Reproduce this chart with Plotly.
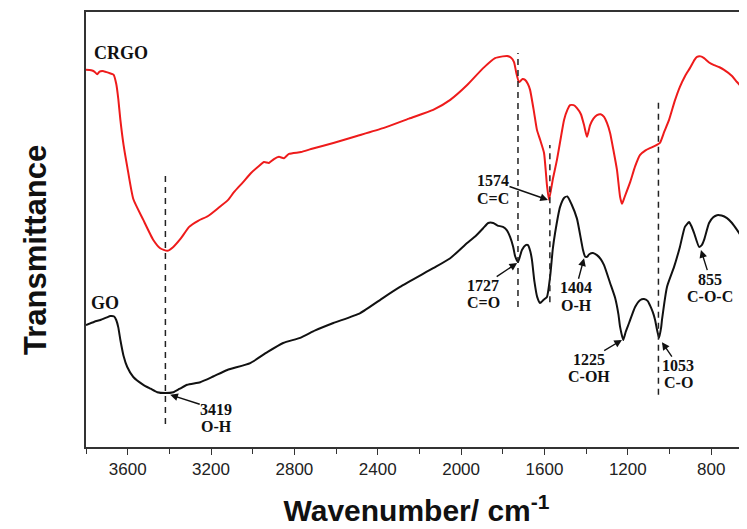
import plotly.graph_objects as go

# ---------------- data (wavenumber in cm^-1, transmittance in a.u.) ----------------
CRGO_WN = [3800, 3775, 3760, 3746, 3735, 3715, 3690, 3668, 3655, 3645, 3635, 3620, 3602, 3573,
           3525, 3477, 3444, 3410, 3381, 3344, 3305, 3262, 3214, 3166, 3118, 3090, 3046, 3008,
           2970, 2946, 2922, 2898, 2874, 2850, 2826, 2768, 2720, 2613, 2500, 2374, 2250, 2134,
           2052, 1971, 1894, 1837, 1800, 1779, 1760, 1746, 1735, 1722, 1705, 1693, 1680, 1669,
           1650, 1636, 1620, 1602, 1588, 1578, 1560, 1540, 1520, 1506, 1490, 1477, 1460, 1444,
           1425, 1410, 1396, 1381, 1365, 1348, 1330, 1314, 1300, 1285, 1270, 1252, 1237, 1228,
           1215, 1190, 1165, 1142, 1115, 1094, 1070, 1046, 1025, 1002, 975, 950, 925, 902, 880,
           868, 850, 834, 810, 786, 760, 738, 700, 676, 628]
CRGO_T = [86.7, 86.6, 86.3, 85.7, 86.3, 86.4, 86.0, 85.6, 83.5, 80.0, 75.2, 69.5, 64.4, 57.0,
          52.2, 47.6, 45.7, 45.1, 46.0, 48.0, 50.6, 52.0, 53.1, 54.9, 56.8, 58.6, 60.9, 63.0,
          64.6, 65.5, 65.3, 66.2, 66.7, 66.4, 67.4, 67.8, 68.5, 69.9, 71.5, 73.3, 75.5, 77.5,
          79.8, 83.2, 87.1, 89.4, 89.8, 89.9, 89.5, 88.5, 86.0, 83.9, 84.6, 84.4, 83.5, 82.1,
          77.0, 72.9, 70.5, 67.6, 60.2, 56.8, 61.5, 66.0, 71.5, 75.2, 77.5, 78.6, 78.6, 77.9,
          76.5, 74.0, 71.3, 74.0, 75.5, 76.3, 76.5, 75.9, 74.5, 72.2, 68.5, 63.7, 57.5, 55.9,
          57.5, 60.7, 64.5, 67.1, 68.2, 68.7, 69.2, 69.9, 72.5, 75.2, 79.5, 82.8, 85.3, 87.1, 89.0,
          89.7, 89.8, 89.4, 88.4, 87.8, 87.3, 86.7, 85.3, 83.9, 81.4]

GO_WN = [3800, 3760, 3731, 3700, 3683, 3665, 3655, 3645, 3635, 3620, 3602, 3573, 3525, 3490,
         3458, 3420, 3381, 3350, 3314, 3252, 3190, 3122, 3012, 2930, 2854, 2772, 2700, 2613,
         2484, 2374, 2293, 2134, 2052, 1971, 1930, 1894, 1870, 1846, 1825, 1799, 1780, 1765,
         1750, 1741, 1727, 1708, 1690, 1679, 1668, 1660, 1648, 1635, 1621, 1605, 1588, 1573,
         1560, 1549, 1525, 1505, 1490, 1470, 1444, 1415, 1405, 1396, 1385, 1367, 1348, 1330,
         1314, 1285, 1261, 1245, 1237, 1222, 1210, 1194, 1165, 1140, 1122, 1105, 1094, 1080,
         1069, 1060, 1050, 1040, 1036, 1012, 978, 950, 926, 906, 895, 882, 858, 845, 834, 810,
         790, 772, 750, 724, 700, 676, 628]
GO_T = [28.0, 28.8, 29.2, 29.8, 30.1, 30.0, 29.2, 27.5, 24.6, 21.0, 18.4, 16.1, 14.3, 13.4,
        12.6, 12.4, 12.6, 13.4, 14.3, 14.9, 16.2, 17.7, 19.3, 21.8, 23.9, 25.1, 26.8, 28.5,
        30.8, 34.3, 36.8, 41.1, 43.4, 46.9, 48.5, 50.3, 51.5, 51.5, 50.9, 50.6, 49.8, 48.3,
        46.0, 43.9, 42.5, 45.3, 46.4, 46.4, 45.0, 43.0, 38.0, 34.5, 33.1, 33.8, 34.5, 39.1,
        45.5, 49.2, 55.2, 57.3, 57.6, 55.8, 52.5, 45.3, 43.8, 43.7, 44.3, 44.6, 44.1, 43.2,
        41.8, 37.7, 34.3, 30.5, 27.6, 24.6, 26.5, 28.5, 32.2, 33.8, 34.0, 33.6, 32.6, 31.0,
        29.2, 27.0, 25.1, 27.5, 29.2, 36.8, 41.4, 46.0, 50.6, 51.7, 50.8, 49.2, 46.0, 46.4,
        47.6, 51.5, 52.8, 53.3, 53.2, 52.6, 51.5, 49.9, 46.4]

# dashed reference lines: wavenumber, lower and upper transmittance
REF_WN = [3419, 1727, 1574, 1053]
REF_LO = [5.3, 32.2, 33.3, 12.0]
REF_HI = [63.2, 90.6, 69.4, 79.3]

# band labels: peak wavenumber, assignment
PEAK_WN = [3419, 1574, 1727, 1404, 1225, 1053, 855]
PEAK_NAME = ["O-H", "C=C", "C=O", "O-H", "C-OH", "C-O", "C-O-C"]
# arrow head (wn, T) and label-block centre (wn, T)
HEAD = [(3396, 12.0), (1583, 56.8), (1731, 42.3), (1410, 43.4), (1228, 24.6), (1036, 24.1), (849, 45.3)]
LABEL = [(3175, 6.7), (1847, 59.3), (1894, 35.2), (1448, 34.7), (1386, 18.2), (959, 16.8), (805, 36.7)]

TICK_VALS = [3600, 3200, 2800, 2400, 2000, 1600, 1200, 800]
MINOR_VALS = [3800, 3400, 3000, 2600, 2200, 1800, 1400, 1000]

SERIF = "Liberation Serif, Times New Roman, serif"
SANS = "Liberation Sans, Arial, sans-serif"

fig = go.Figure()
fig.add_trace(go.Scatter(x=CRGO_WN, y=CRGO_T, mode="lines", name="CRGO",
                         line=dict(color="#ee1b1b", width=2, shape="spline", smoothing=0.5)))
fig.add_trace(go.Scatter(x=GO_WN, y=GO_T, mode="lines", name="GO",
                         line=dict(color="#111111", width=2, shape="spline", smoothing=0.5)))

for wn, lo, hi in zip(REF_WN, REF_LO, REF_HI):
    fig.add_shape(type="line", xref="x", yref="y", x0=wn, x1=wn, y0=lo, y1=hi,
                  line=dict(color="#222222", width=1.5, dash="6px,5px"))

lab_font = dict(family=SERIF, size=16, color="#111111", weight="bold")
for wn, name, h, l in zip(PEAK_WN, PEAK_NAME, HEAD, LABEL):
    # number line carries the arrow
    fig.add_annotation(x=h[0], y=h[1], ax=l[0], ay=l[1] + 1.9, xref="x", yref="y",
                       axref="x", ayref="y", text=str(wn), showarrow=True, font=lab_font,
                       arrowhead=2, arrowsize=1.1, arrowwidth=1.4, arrowcolor="#111111",
                       borderpad=0)
    fig.add_annotation(x=l[0], y=l[1], xref="x", yref="y", text=name, showarrow=False,
                       font=lab_font, yshift=-9)

fig.add_annotation(x=3770, y=90.6, xref="x", yref="y", text="CRGO", showarrow=False,
                   xanchor="left", font=dict(family=SERIF, size=18, color="#111111", weight="bold"))
fig.add_annotation(x=3710, y=33.1, xref="x", yref="y", text="GO", showarrow=False,
                   font=dict(family=SERIF, size=18, color="#111111", weight="bold"))

# y-axis title, placed slightly below the axis centre as in the original
fig.add_annotation(x=0, y=0.453, xref="paper", yref="paper", xshift=-50, text="Transmittance",
                   textangle=-90, showarrow=False, xanchor="center", yanchor="middle",
                   font=dict(family=SANS, size=31, color="#111111", weight="bold"))

# the page body has an 8px default margin, so the figure is sized to fit the window
fig.update_layout(
    width=739, height=521,
    margin=dict(l=78, r=0, t=4, b=82),
    paper_bgcolor="white", plot_bgcolor="white",
    showlegend=False,
    xaxis=dict(range=[3800, 628], tickvals=TICK_VALS, ticks="outside", ticklen=6,
               tickwidth=1.3, tickcolor="#333333",
               minor=dict(tickvals=MINOR_VALS, ticks="outside", ticklen=5, tickwidth=1.3,
                          tickcolor="#333333"),
               showline=True, linecolor="#333333", linewidth=1.5, mirror=True,
               showgrid=False, zeroline=False,
               tickfont=dict(family=SANS, size=17, color="#222222"),
               title=dict(text="Wavenumber/ cm<sup>-1</sup>", standoff=22,
                          font=dict(family=SANS, size=30, color="#111111", weight="bold"))),
    yaxis=dict(range=[0, 100], showticklabels=False, ticks="",
               showline=True, linecolor="#333333", linewidth=1.5, mirror=False,
               showgrid=False, zeroline=False),
)

fig.write_html("out.html")
